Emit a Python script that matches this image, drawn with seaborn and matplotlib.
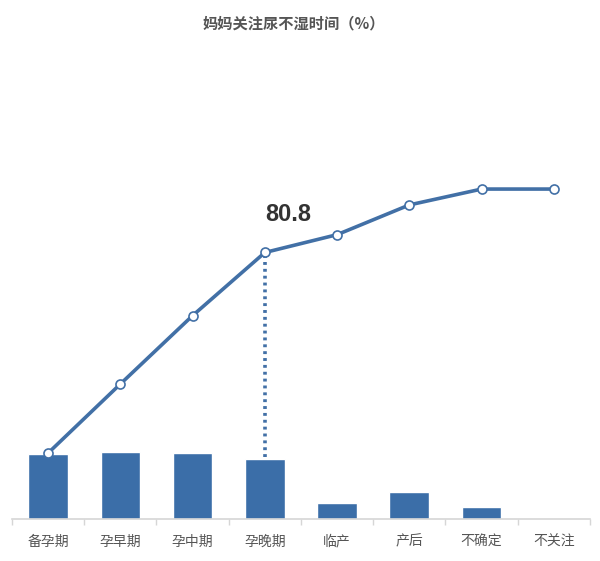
import numpy as np
import seaborn as sns
import matplotlib.pyplot as plt
from matplotlib.ticker import FixedLocator

# data
stages = ["备孕期", "孕早期", "孕中期", "孕晚期", "临产", "产后", "不确定", "不关注"]
share = [19.8, 20.3, 20.0, 18.2, 4.9, 8.3, 3.7, 0.0]          # bars (%)
cumulative = [20.1, 41.0, 61.7, 80.8, 86.2, 95.2, 100.0, 100.0]  # line (%)
highlight_idx = 3
title = "妈妈关注尿不湿时间（%）"

sns.set_theme(style="white")
plt.rcParams['font.family'] = ['Noto Sans CJK SC', 'DejaVu Sans']

bar_color = "#3b6ea8"
line_color = "#4270a6"

fig = plt.figure(figsize=(6, 5.61), dpi=100)
ax = fig.add_axes([0.02, 0.0740, 0.9633, 0.8246])

sns.barplot(x=stages, y=share, color=bar_color, width=0.55, saturation=1, ax=ax)

xs = np.arange(len(stages))
sns.lineplot(x=xs, y=cumulative, color=line_color, linewidth=2.6, marker="o",
             markersize=6.5, markerfacecolor="white", markeredgecolor=line_color,
             markeredgewidth=1.2, ax=ax, zorder=5)

# dotted drop line from highlighted point down to its bar
ax.plot([highlight_idx, highlight_idx], [share[highlight_idx] + 0.8, cumulative[highlight_idx] - 1.2],
        color=line_color, linewidth=2.6, linestyle=(0, (0.8, 1.1)), zorder=4)
ax.text(highlight_idx + 0.32, cumulative[highlight_idx] + 11.5, f"{cumulative[highlight_idx]}",
        ha="center", va="center", fontsize=17, fontweight="bold",
        family=["Liberation Sans", "DejaVu Sans"], color="#333333")

ax.set_xlim(-0.5, len(stages) - 0.5)
ax.set_ylim(0, 140)
ax.set_yticks([])
ax.set_ylabel("")
ax.set_xlabel("")

for s in ["left", "right", "top"]:
    ax.spines[s].set_visible(False)
ax.spines["bottom"].set_color("#d6d6d6")
ax.spines["bottom"].set_linewidth(1.2)

ax.set_xticks(xs)
ax.set_xticklabels(stages, fontsize=10, color="#555555")
ax.tick_params(axis="x", which="major", length=0, pad=11)
ax.xaxis.set_minor_locator(FixedLocator(np.arange(-0.5, len(stages), 1.0)))
ax.tick_params(axis="x", which="minor", length=4, width=1, color="#d6d6d6", bottom=True)

fig.text(0.49, 0.959, title, ha="center", va="center", fontsize=11,
         fontweight="bold", color="#555555")

fig.savefig("out.png", dpi=100)
